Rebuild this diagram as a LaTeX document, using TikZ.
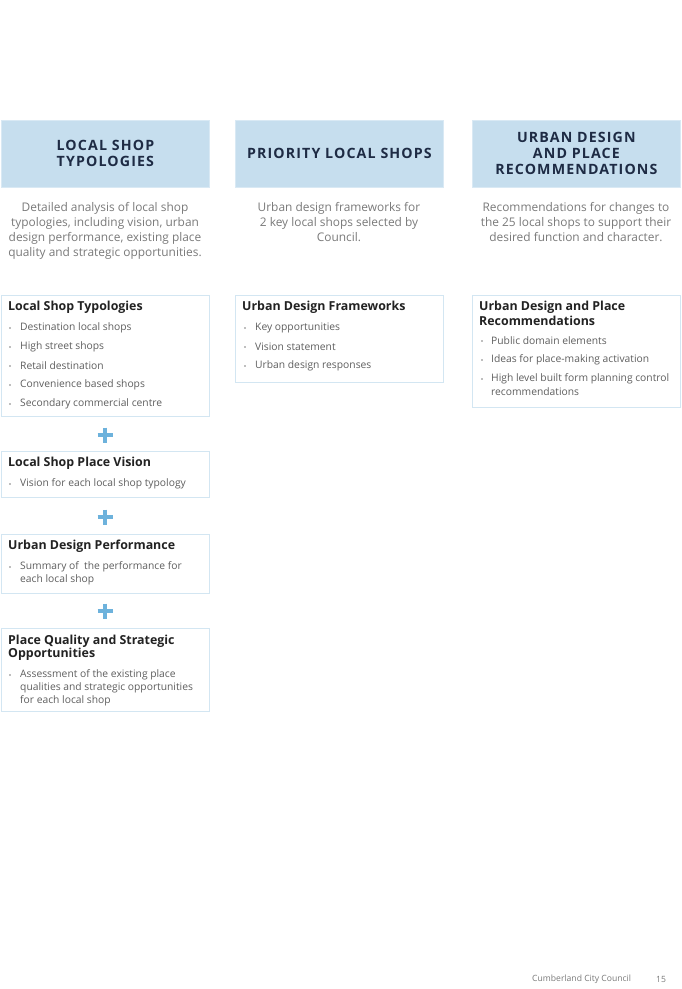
\documentclass[tikz,border=0pt]{standalone}
\usepackage{fontspec}
\usetikzlibrary{calc}
\setmainfont{Open Sans}
\newfontfamily\hdrfont[LetterSpace=8]{Open Sans}
\definecolor{hdrfill}{HTML}{C6DEEE}
\definecolor{hdredge}{HTML}{D9E9F4}
\definecolor{boxedge}{HTML}{D3E6F2}
\definecolor{navy}{HTML}{1E2B44}
\definecolor{desc}{HTML}{7A7A7A}
\definecolor{bul}{HTML}{5E5E5E}
\definecolor{ttl}{HTML}{222222}
\definecolor{plusblue}{HTML}{6DB2DC}
\tikzset{
  hdr/.style={draw=hdredge, fill=hdrfill, line width=0.8pt, minimum width=208pt, minimum height=67pt, anchor=north west, inner sep=0pt},
  hdrtext/.style={font=\hdrfont\bfseries\fontsize{14.2}{16}\selectfont, text=navy, align=center, inner sep=0pt},
  desctext/.style={font=\fontsize{11.9}{15}\selectfont, text=desc, align=center, inner sep=0pt, anchor=north},
  dbox/.style={draw=boxedge, line width=0.8pt, minimum width=208pt, anchor=north west, inner sep=0pt},
  ttltext/.style={font=\bfseries\fontsize{12.4}{13}\selectfont, text=ttl, anchor=west, inner sep=0pt},
  bultext/.style={font=\fontsize{10.3}{13}\selectfont, text=bul, anchor=west, inner sep=0pt},
  dot/.style={circle, fill=bul!80, inner sep=0pt, minimum size=1.9pt},
  plusline/.style={draw=plusblue, line width=3.2pt},
  foot/.style={font=\fontsize{8.6}{10}\selectfont, text=desc, anchor=west, inner sep=0pt}
}
\begin{document}
\begin{tikzpicture}[x=1pt,y=-1pt]
\useasboundingbox (0,0) rectangle (682,989);
\fill[white] (0,0) rectangle (682,989);
% header boxes
\node[hdr] (h1) at (1,120) {};
\node[hdr] (h2) at (235,120) {};
\node[hdr] (h3) at (472,120) {};
\node[hdrtext] (h1t) at (h1.center) {LOCAL SHOP\\TYPOLOGIES};
\node[hdrtext] (h2t) at (h2.center) {PRIORITY LOCAL SHOPS};
\node[hdrtext] (h3t) at (h3.center) {URBAN DESIGN\\AND PLACE\\RECOMMENDATIONS};
% descriptions
\node[desctext] (d1) at (105,202) {Detailed analysis of local shop\\typologies, including vision, urban\\design performance, existing place\\quality and strategic opportunities.};
\node[desctext] (d2) at (339,202) {Urban design frameworks for\\2 key local shops selected by\\Council.};
\node[desctext] (d3) at (576,202) {Recommendations for changes to\\the 25 local shops to support their\\desired function and character.};
% detail boxes
\node[dbox, minimum height=121pt] (a) at (1,295) {};
\node[dbox, minimum height=87pt] (b) at (235,295) {};
\node[dbox, minimum height=112pt] (c) at (472,295) {};
\node[dbox, minimum height=46pt] (dd) at (1,451) {};
\node[dbox, minimum height=59pt] (e) at (1,534) {};
\node[dbox, minimum height=83pt] (f) at (1,628) {};
% box a
\node[ttltext] (at) at (8,307.5) {Local Shop Typologies};
\foreach \yy/\tx [count=\i] in {327/Destination local shops,346/High street shops,365/Retail destination,384/Convenience based shops,403/Secondary commercial centre}{
  \node[dot] (ad\i) at (10,\yy+1) {};
  \node[bultext] (ab\i) at (20,\yy+1) {\tx};
}
% box b
\node[ttltext] (bt) at (242,307.5) {Urban Design Frameworks};
\foreach \yy/\tx [count=\i] in {327/Key opportunities,346/Vision statement,365/Urban design responses}{
  \node[dot] (bd\i) at (245,\yy+1) {};
  \node[bultext] (bb\i) at (255,\yy+1) {\tx};
}
% box c
\node[ttltext] (ct1) at (479,307.5) {Urban Design and Place};
\node[ttltext] (ct2) at (479,320.5) {Recommendations};
\foreach \yy/\tx [count=\i] in {340/Public domain elements,359/Ideas for place-making activation,378/High level built form planning control}{
  \node[dot] (cd\i) at (482,\yy+1) {};
  \node[bultext] (cb\i) at (491,\yy+1) {\tx};
}
\node[bultext] (cb4) at (491,392) {recommendations};
% box d
\node[ttltext] (dt) at (8,463.5) {Local Shop Place Vision};
\node[dot] (dd1) at (10,484) {};
\node[bultext] (db1) at (20,484) {Vision for each local shop typology};
% box e
\node[ttltext] (et) at (8,546.5) {Urban Design Performance};
\node[dot] (ed1) at (10,567) {};
\node[bultext] (eb1) at (20,567) {Summary of\ \ the performance for};
\node[bultext] (eb2) at (20,580) {each local shop};
% box f
\node[ttltext] (ft1) at (8,641.5) {Place Quality and Strategic};
\node[ttltext] (ft2) at (8,654.5) {Opportunities};
\node[dot] (fd1) at (10,675) {};
\node[bultext] (fb1) at (20,675) {Assessment of the existing place};
\node[bultext] (fb2) at (20,688) {qualities and strategic opportunities};
\node[bultext] (fb3) at (20,701) {for each local shop};
% plus signs
\foreach \yy [count=\i] in {435,517,611}{
  \coordinate (p\i) at (105,\yy);
  \draw[plusline] ($(p\i)+(-7.5,0)$) -- ($(p\i)+(7.5,0)$);
  \draw[plusline] ($(p\i)+(0,-7.5)$) -- ($(p\i)+(0,7.5)$);
}
% footer
\node[foot] (ft) at (532,979) {Cumberland City Council};
\node[foot] (pg) at (656,979) {15};
\end{tikzpicture}
\end{document}
